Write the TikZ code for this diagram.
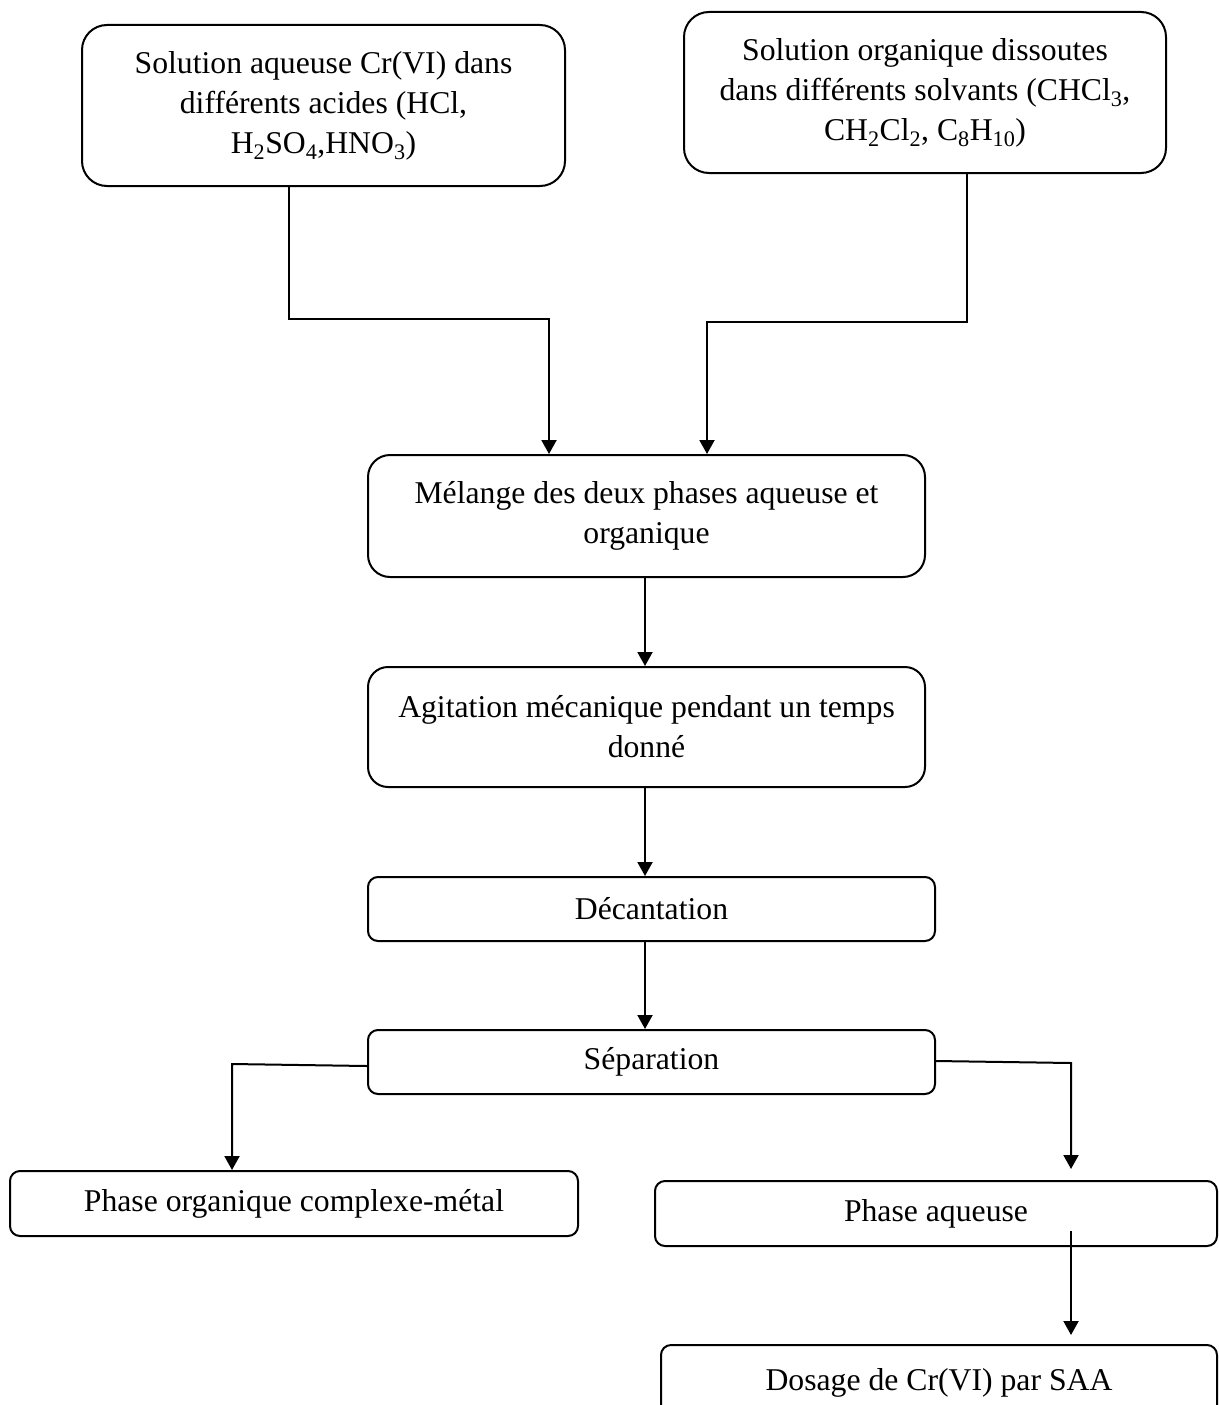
\documentclass[tikz,border=0pt]{standalone}
\usepackage{fontspec}
\setmainfont{Liberation Serif}
\usetikzlibrary{arrows.meta}
\begin{document}
\begin{tikzpicture}[x=1pt,y=-1pt,
  box/.style={draw, line width=2pt, rounded corners=#1, align=center, inner sep=0pt,
    font=\fontsize{31.7}{40}\selectfont},
  box/.default=12pt,
  conn/.style={line width=2pt, -{Triangle[length=14pt,width=15pt]}}]
\clip (0,0) rectangle (1218,1405);
\fill[white] (0,0) rectangle (1218,1405);

\node[box=25pt, minimum width=483pt, minimum height=161pt] (a) at (323.5,105.5)
  {Solution aqueuse Cr(VI) dans\\différents acides (HCl,\\H\textsubscript{2}SO\textsubscript{4},HNO\textsubscript{3})};
\node[box=25pt, minimum width=482pt, minimum height=161pt] (b) at (925,92.5)
  {Solution organique dissoutes\\dans différents solvants (CHCl\textsubscript{3},\\CH\textsubscript{2}Cl\textsubscript{2}, C\textsubscript{8}H\textsubscript{10})};
\node[box=22pt, minimum width=557pt, minimum height=122pt] (m) at (646.5,516)
  {Mélange des deux phases aqueuse et\\organique};
\node[box=20pt, minimum width=557pt, minimum height=120pt] (g) at (646.5,727)
  {Agitation mécanique pendant un temps\\donné};
\node[box=10pt, minimum width=567pt, minimum height=64pt] (d) at (651.5,909) {Décantation};
\node[box=10pt, minimum width=567pt, minimum height=64pt] (s) at (651.5,1062) {Séparation};
\node[box=10pt, minimum width=568pt, minimum height=65pt] (po) at (294,1203.5) {Phase organique complexe-métal};
\node[box=10pt, minimum width=562pt, minimum height=65pt] (pa) at (936,1213.5) {Phase aqueuse};
\node[box=10pt, minimum width=556pt, minimum height=75pt] (ds) at (939,1382.5) {Dosage de Cr(VI) par SAA};

\coordinate (a1) at (289,319);
\coordinate (a2) at (549,319);
\coordinate (b1) at (967,322);
\coordinate (b2) at (707,322);
\coordinate (cx) at (645,0);
\coordinate (s1) at (232,1064);
\coordinate (s2) at (1071,1063);
\coordinate (p1) at (pa.north -| s2);
\coordinate (p2) at (pa.south -| s2);
\coordinate (p3) at (ds.north -| s2);

\draw[conn] (a.south -| a1) -- (a1) -- (a2) -- (m.north -| a2);
\draw[conn] (b.south -| b1) -- (b1) -- (b2) -- (m.north -| b2);
\draw[conn] (m.south -| cx) -- (g.north -| cx);
\draw[conn] (g.south -| cx) -- (d.north -| cx);
\draw[conn] (d.south -| cx) -- (s.north -| cx);
\draw[conn] ([yshift=-4pt]s.west) -- (s1) -- (po.north -| s1);
\draw[conn] ([yshift=1pt]s.east) -- (s2) -- ([yshift=11pt]p1);
\draw[conn] ([yshift=16pt]p2) -- ([yshift=9pt]p3);
\end{tikzpicture}
\end{document}
